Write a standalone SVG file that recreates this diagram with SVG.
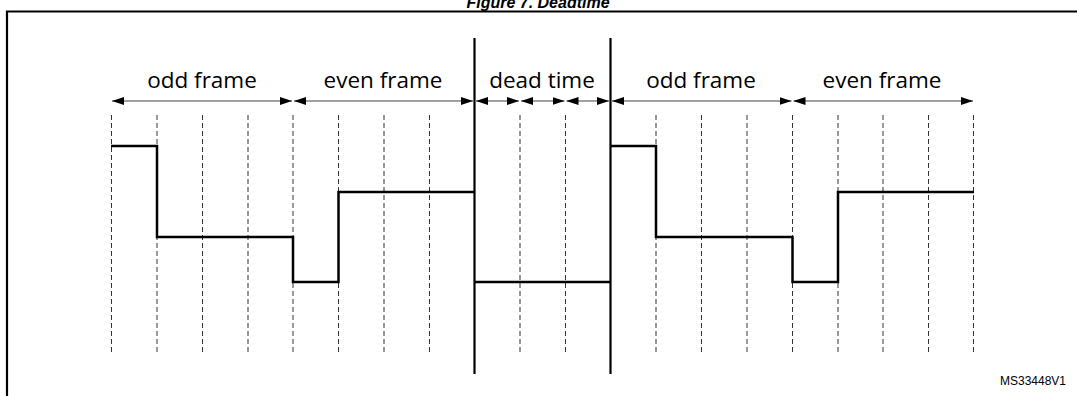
<svg xmlns="http://www.w3.org/2000/svg" width="1077" height="396" viewBox="0 0 1077 396">
<defs>
<marker id="ah" markerWidth="12" markerHeight="8" refX="12" refY="4" orient="auto-start-reverse" markerUnits="userSpaceOnUse">
<path d="M0,0 L12,4 L0,8 Z" fill="#000"/>
</marker>
<style>
.title{font-family:"Liberation Sans",Arial,sans-serif;font-weight:bold;font-style:italic;font-size:16px;fill:#000}
.lbl{font-family:"Open Sans","DejaVu Sans",sans-serif;font-size:22.5px;fill:#000}
.ref{font-family:"Liberation Sans",Arial,sans-serif;font-size:12px;fill:#000}
.grid{stroke:#333;stroke-width:1;stroke-dasharray:5,3;fill:none}
.arr{stroke:#808080;stroke-width:1.5;fill:none;marker-start:url(#ah);marker-end:url(#ah)}
.bar{stroke:#000;stroke-width:2.2;fill:none}
.wave{stroke:#000;stroke-width:2.5;fill:none;stroke-linejoin:miter}
</style>
</defs>
<rect width="1077" height="396" fill="#fff"/>
<text class="title" x="538" y="8" text-anchor="middle">Figure 7. Deadtime</text>
<path d="M7,396 V11.5 H1077" stroke="#000" stroke-width="2.2" fill="none"/>
<g id="grid">
<line class="grid" x1="111.5" y1="115" x2="111.5" y2="352"/>
<line class="grid" x1="157" y1="115" x2="157" y2="352"/>
<line class="grid" x1="202.5" y1="115" x2="202.5" y2="352"/>
<line class="grid" x1="248" y1="115" x2="248" y2="352"/>
<line class="grid" x1="293" y1="115" x2="293" y2="352"/>
<line class="grid" x1="338.5" y1="115" x2="338.5" y2="352"/>
<line class="grid" x1="384" y1="115" x2="384" y2="352"/>
<line class="grid" x1="429.5" y1="115" x2="429.5" y2="352"/>
<line class="grid" x1="520" y1="115" x2="520" y2="352"/>
<line class="grid" x1="565.5" y1="115" x2="565.5" y2="352"/>
<line class="grid" x1="656" y1="115" x2="656" y2="352"/>
<line class="grid" x1="701.5" y1="115" x2="701.5" y2="352"/>
<line class="grid" x1="747" y1="115" x2="747" y2="352"/>
<line class="grid" x1="792.5" y1="115" x2="792.5" y2="352"/>
<line class="grid" x1="838" y1="115" x2="838" y2="352"/>
<line class="grid" x1="883" y1="115" x2="883" y2="352"/>
<line class="grid" x1="928.5" y1="115" x2="928.5" y2="352"/>
<line class="grid" x1="973.5" y1="115" x2="973.5" y2="352"/>
</g>
<g id="deadtime-bounds">
<line class="bar" x1="474.5" y1="38" x2="474.5" y2="374"/>
<line class="bar" x1="610.5" y1="38" x2="610.5" y2="374"/>
</g>
<g id="connectors">
<line class="arr" x1="112" y1="101" x2="292" y2="101"/>
<line class="arr" x1="294" y1="101" x2="473" y2="101"/>
<line class="arr" x1="476" y1="101" x2="519" y2="101"/>
<line class="arr" x1="521" y1="101" x2="564.5" y2="101"/>
<line class="arr" x1="566.5" y1="101" x2="609" y2="101"/>
<line class="arr" x1="612" y1="101" x2="791.5" y2="101"/>
<line class="arr" x1="793.5" y1="101" x2="973" y2="101"/>
</g>
<g id="labels">
<text class="lbl" x="202" y="88" text-anchor="middle">odd frame</text>
<text class="lbl" x="383" y="88" text-anchor="middle">even frame</text>
<text class="lbl" x="542" y="88" text-anchor="middle">dead time</text>
<text class="lbl" x="701" y="88" text-anchor="middle">odd frame</text>
<text class="lbl" x="882" y="88" text-anchor="middle">even frame</text>
</g>
<g id="waveform">
<path class="wave" d="M111,146 H157 V237 H293 V282 H338.5 V192 H474.5"/>
<path class="wave" d="M474.5,282 H610.5"/>
<path class="wave" d="M610.5,146 H656 V237 H792.5 V282 H838 V192 H974"/>
</g>
<text class="ref" x="1066" y="385" text-anchor="end">MS33448V1</text>
</svg>
